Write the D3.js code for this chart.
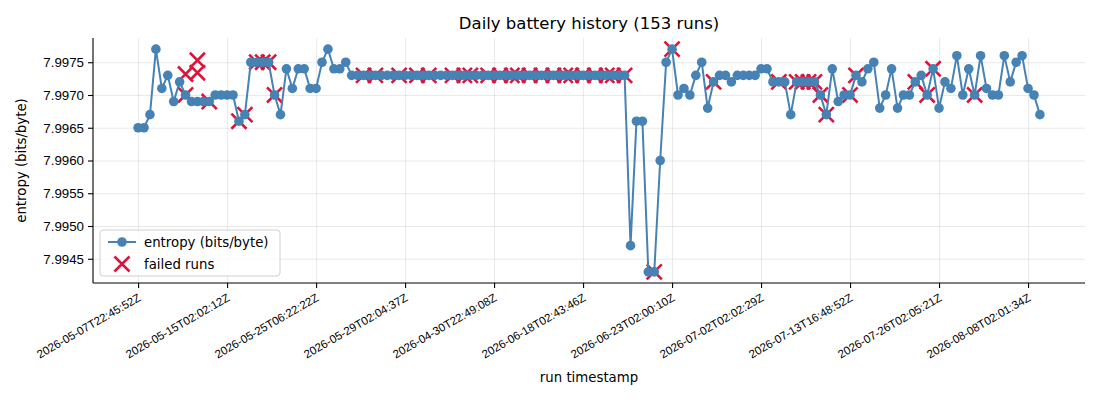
<!DOCTYPE html>
<html>
<head>
<meta charset="utf-8">
<script src="https://cdn.jsdelivr.net/npm/d3@7"></script>
<style>
  body { margin: 0; background: #fff; }
  svg { font-family: "DejaVu Sans", sans-serif; }
  .grid line { stroke: #b0b0b0; stroke-opacity: 0.35; stroke-width: 0.8; }
  .grid .domain { display: none; }
  .axis text { font-size: 13.3px; fill: #000; }
  .axis line, .axis path { stroke: #000; stroke-width: 1.1; }
  .x-axis text { font-size: 11.5px; }
</style>
</head>
<body>
<svg id="chart"></svg>
<script>
// run index of each labelled tick and the labels shown under it
const tickIndex = [0, 15, 30, 45, 60, 75, 90, 105, 120, 135, 150];
const tickLabels = [
  "2026-05-07T22:45:52Z", "2026-05-15T02:02:12Z", "2026-05-25T06:22:22Z",
  "2026-05-29T02:04:37Z", "2026-04-30T22:49:08Z", "2026-06-18T02:43:46Z",
  "2026-06-23T02:00:10Z", "2026-07-02T02:02:29Z", "2026-07-13T16:48:52Z",
  "2026-07-26T02:05:21Z", "2026-08-08T02:01:34Z"
];
const yTicks = [7.9945, 7.9950, 7.9955, 7.9960, 7.9965, 7.9970, 7.9975];

// entropy per run, in run order (153 runs)
const entropy = [
  7.9965, 7.9965, 7.9967, 7.9977, 7.9971, 7.9973, 7.9969, 7.9972, 7.9970, 7.9969,
  7.9969, 7.9969, 7.9969, 7.9970, 7.9970, 7.9970, 7.9970, 7.9966, 7.9967, 7.9975,
  7.9975, 7.9975, 7.9975, 7.9970, 7.9967, 7.9974, 7.9971, 7.9974, 7.9974, 7.9971,
  7.9971, 7.9975, 7.9977, 7.9974, 7.9974, 7.9975, 7.9973, 7.9973, 7.9973, 7.9973,
  7.9973, 7.9973, 7.9973, 7.9973, 7.9973, 7.9973, 7.9973, 7.9973, 7.9973, 7.9973,
  7.9973, 7.9973, 7.9973, 7.9973, 7.9973, 7.9973, 7.9973, 7.9973, 7.9973, 7.9973,
  7.9973, 7.9973, 7.9973, 7.9973, 7.9973, 7.9973, 7.9973, 7.9973, 7.9973, 7.9973,
  7.9973, 7.9973, 7.9973, 7.9973, 7.9973, 7.9973, 7.9973, 7.9973, 7.9973, 7.9973,
  7.9973, 7.9973, 7.9973, 7.9947, 7.9966, 7.9966, 7.9943, 7.9943, 7.9960, 7.9975,
  7.9977, 7.9970, 7.9971, 7.9970, 7.9973, 7.9975, 7.9968, 7.9972, 7.9973, 7.9973,
  7.9972, 7.9973, 7.9973, 7.9973, 7.9973, 7.9974, 7.9974, 7.9972, 7.9972, 7.9972,
  7.9967, 7.9972, 7.9972, 7.9972, 7.9972, 7.9970, 7.9967, 7.9974, 7.9969, 7.9970,
  7.9970, 7.9973, 7.9972, 7.9974, 7.9975, 7.9968, 7.9970, 7.9974, 7.9968, 7.9970,
  7.9970, 7.9972, 7.9973, 7.9970, 7.9974, 7.9968, 7.9972, 7.9971, 7.9976, 7.9970,
  7.9974, 7.9970, 7.9976, 7.9971, 7.9970, 7.9970, 7.9976, 7.9972, 7.9975, 7.9976,
  7.9971, 7.9970, 7.9967
];

// failed runs: run index and the entropy they were plotted at
const failedIndex = [
  8, 8, 10, 10, 12, 17, 18, 20, 21, 22, 23,
  38, 40, 44, 47, 49, 53, 55, 56, 59, 61, 63, 64, 66, 68, 70, 72, 73, 75, 77, 79, 80, 82,
  87, 90, 97, 108, 111, 112, 113, 114, 115, 116, 120, 121, 131, 133, 134, 141
];
const failedEntropy = [
  7.9970, 7.99732, 7.99753, 7.99734, 7.9969, 7.9966, 7.9967, 7.9975, 7.9975, 7.9975, 7.9970,
  7.9973, 7.9973, 7.9973, 7.9973, 7.9973, 7.9973, 7.9973, 7.9973, 7.9973, 7.9973, 7.9973,
  7.9973, 7.9973, 7.9973, 7.9973, 7.9973, 7.9973, 7.9973, 7.9973, 7.9973, 7.9973, 7.9973,
  7.9943, 7.9977, 7.9972, 7.9972, 7.9972, 7.9972, 7.9972, 7.9972, 7.9970, 7.9967, 7.9970,
  7.9973, 7.9972, 7.9970, 7.9974, 7.9970
];

const lineColor = "#4682b4";
const failColor = "#dc143c";

const containerWidth = 1100, containerHeight = 400;
const margin = {top: 38, right: 15, bottom: 117, left: 93};
const width = containerWidth - margin.left - margin.right;
const height = containerHeight - margin.top - margin.bottom;

const svg = d3.select("#chart")
    .attr("width", containerWidth)
    .attr("height", containerHeight);

const chart = svg.append("g")
    .attr("transform", `translate(${margin.left},${margin.top})`);

// matplotlib style 5% padding around the data range
const n = entropy.length;
const xPad = (n - 1) * 0.05;
const allY = entropy.concat(failedEntropy);
const yMin = d3.min(allY), yMax = d3.max(allY);
const yPad = (yMax - yMin) * 0.05;

const xScale = d3.scaleLinear()
    .domain([-xPad, n - 1 + xPad])
    .range([0, width]);

const yScale = d3.scaleLinear()
    .domain([yMin - yPad, yMax + yPad])
    .range([height, 0]);

// grid lines
chart.append("g")
    .attr("class", "grid")
    .call(d3.axisLeft(yScale).tickValues(yTicks).tickSize(-width).tickFormat(""));
chart.append("g")
    .attr("class", "grid")
    .attr("transform", `translate(0,${height})`)
    .call(d3.axisBottom(xScale).tickValues(tickIndex).tickSize(-height).tickFormat(""));

// failed runs go underneath the line, like a default scatter
const xMark = d3.symbol().type(d3.symbolX).size(150);
chart.append("g")
  .selectAll("path")
    .data(failedIndex.map((d, i) => [d, failedEntropy[i]]))
    .enter()
  .append("path")
    .attr("d", xMark)
    .attr("transform", d => `translate(${xScale(d[0])},${yScale(d[1])})`)
    .attr("fill", "none")
    .attr("stroke", failColor)
    .attr("stroke-width", 2.6);

// entropy line and dots
const line = d3.line()
    .x((d, i) => xScale(i))
    .y(d => yScale(d));

chart.append("path")
    .datum(entropy)
    .attr("fill", "none")
    .attr("stroke", lineColor)
    .attr("stroke-width", 2)
    .attr("d", line);

chart.append("g")
  .selectAll("circle")
    .data(entropy)
    .enter()
  .append("circle")
    .attr("cx", (d, i) => xScale(i))
    .attr("cy", d => yScale(d))
    .attr("r", 4.8)
    .attr("fill", lineColor);

// axes
const yAxisG = chart.append("g")
    .attr("class", "axis y-axis")
    .call(d3.axisLeft(yScale).tickValues(yTicks).tickFormat(d3.format(".4f")).tickSize(5).tickSizeOuter(0).tickPadding(4));

const xAxisG = chart.append("g")
    .attr("class", "axis x-axis")
    .attr("transform", `translate(0,${height})`)
    .call(d3.axisBottom(xScale).tickValues(tickIndex).tickFormat((d, i) => tickLabels[i]).tickSize(5).tickSizeOuter(0));

xAxisG.selectAll("text")
    .attr("text-anchor", "end")
    .attr("dominant-baseline", "hanging")
    .attr("dy", 0)
    .attr("y", 0)
    .attr("transform", "translate(-1,10) rotate(-30)");

// keep only left and bottom spines
yAxisG.select(".domain").attr("d", `M0,0V${height}`);
xAxisG.select(".domain").attr("d", `M0,0H${width}`);

// titles
svg.append("text")
    .attr("x", margin.left + width / 2)
    .attr("y", 29)
    .attr("text-anchor", "middle")
    .attr("font-size", "16.5px")
    .text("Daily battery history (153 runs)");

svg.append("text")
    .attr("x", margin.left + width / 2)
    .attr("y", 382)
    .attr("text-anchor", "middle")
    .attr("font-size", "13.3px")
    .text("run timestamp");

svg.append("text")
    .attr("transform", `translate(26,${margin.top + height / 2}) rotate(-90)`)
    .attr("text-anchor", "middle")
    .attr("font-size", "13.3px")
    .text("entropy (bits/byte)");

// legend, lower left
const legend = chart.append("g")
    .attr("transform", `translate(7,${height - 53})`);

legend.append("rect")
    .attr("width", 180)
    .attr("height", 46)
    .attr("rx", 3)
    .attr("fill", "#fff")
    .attr("fill-opacity", 0.8)
    .attr("stroke", "#d0d0d0");

legend.append("line")
    .attr("x1", 8).attr("x2", 36)
    .attr("y1", 12).attr("y2", 12)
    .attr("stroke", lineColor)
    .attr("stroke-width", 2);
legend.append("circle")
    .attr("cx", 22).attr("cy", 12).attr("r", 4.8)
    .attr("fill", lineColor);
legend.append("path")
    .attr("d", xMark)
    .attr("transform", "translate(22,34)")
    .attr("fill", "none")
    .attr("stroke", failColor)
    .attr("stroke-width", 2.6);

legend.selectAll(".legend-label")
    .data(["entropy (bits/byte)", "failed runs"])
    .enter()
  .append("text")
    .attr("class", "legend-label")
    .attr("x", 44)
    .attr("y", (d, i) => 12 + i * 22)
    .attr("dy", "0.35em")
    .attr("font-size", "13.3px")
    .text(d => d);
</script>
</body>
</html>
